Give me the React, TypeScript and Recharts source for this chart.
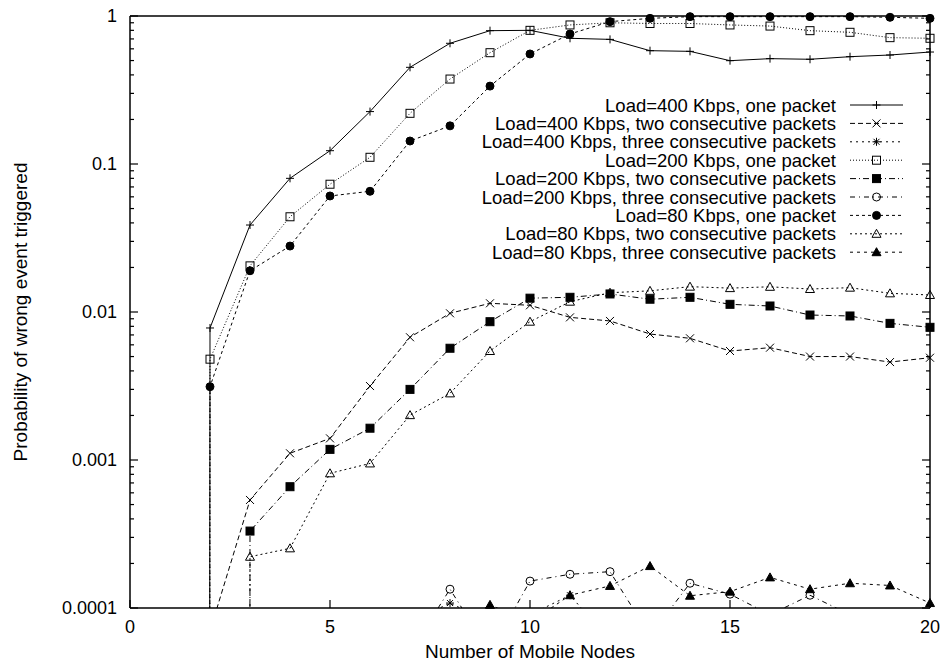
import React from "react";
import { ComposedChart, Line, Scatter, XAxis, YAxis, Legend } from "recharts";

// Number of mobile nodes (x); 0 means "no event seen" and drops off the log scale
const nodes = [1, 2, 3, 4, 5, 6, 7, 8, 9, 10, 11, 12, 13, 14, 15, 16, 17, 18, 19, 20];

const load400One = [0, 0.0078, 0.0387, 0.08, 0.123, 0.226, 0.45, 0.654, 0.796, 0.8, 0.707, 0.695, 0.583, 0.577, 0.499, 0.515, 0.51, 0.531, 0.545, 0.571];
const load400Two = [0, 0.00007, 0.000537, 0.00111, 0.0014, 0.00316, 0.00675, 0.0098, 0.01145, 0.0111, 0.0092, 0.0087, 0.0071, 0.00664, 0.00545, 0.00574, 0.005, 0.005, 0.00459, 0.00491];
const load400Three = [0, 0, 0, 0, 0, 0, 0.00008, 0.000108, 0.00008, 0.00009, 0.000122, 0.00006, 0, 0, 0, 0, 0, 0, 0, 0];
const load200One = [0, 0.0048, 0.0205, 0.044, 0.073, 0.111, 0.22, 0.375, 0.565, 0.8, 0.87, 0.9, 0.89, 0.89, 0.87, 0.855, 0.796, 0.776, 0.714, 0.707];
const load200Two = [0, 0, 0.000331, 0.00066, 0.00118, 0.00164, 0.003, 0.00569, 0.0086, 0.0124, 0.01257, 0.01324, 0.0122, 0.01257, 0.01127, 0.01098, 0.00954, 0.0094, 0.00838, 0.00788];
const load200Three = [0, 0, 0, 0, 0, 0, 0.00005, 0.000134, 0.00005, 0.000152, 0.000169, 0.000176, 0.000065, 0.000147, 0.000124, 0.00009, 0.000122, 0.00009, 0.00005, 0.00005];
const load80One = [0, 0.00313, 0.019, 0.0279, 0.0608, 0.0654, 0.143, 0.181, 0.336, 0.554, 0.756, 0.916, 0.964, 0.99, 0.99, 0.99, 0.99, 0.99, 0.98, 0.964];
const load80Two = [0, 0, 0.000222, 0.000253, 0.000813, 0.000948, 0.00201, 0.00282, 0.00545, 0.0086, 0.01174, 0.0135, 0.0139, 0.01483, 0.0145, 0.0148, 0.0143, 0.0146, 0.01337, 0.01303];
const load80Three = [0, 0, 0, 0, 0, 0, 0, 0.00007, 0.000105, 0.00008, 0.000122, 0.000141, 0.000192, 0.000121, 0.000129, 0.000161, 0.000134, 0.000147, 0.000142, 0.000108];

const xTicks = [0, 5, 10, 15, 20];
const yMajorTicks = [0.0001, 0.001, 0.01, 0.1, 1];
const yTickLabels = ["0.0001", "0.001", "0.01", "0.1", "1"];
const yMinorTicks = [
  0.0002, 0.0003, 0.0004, 0.0005, 0.0006, 0.0007, 0.0008, 0.0009,
  0.002, 0.003, 0.004, 0.005, 0.006, 0.007, 0.008, 0.009,
  0.02, 0.03, 0.04, 0.05, 0.06, 0.07, 0.08, 0.09,
  0.2, 0.3, 0.4, 0.5, 0.6, 0.7, 0.8, 0.9,
];

const FONT = '"Liberation Sans", Arial, Helvetica, sans-serif';
const Y_MIN = 0.0001;
const LOG_ZERO = 1e-300; // gnuplot draws log(0) as a vertical drop

type MarkerKind = "plus" | "cross" | "star" | "box" | "boxF" | "circle" | "circleF" | "tri" | "triF";

const series: { name: string; values: number[]; dash?: string; marker: MarkerKind }[] = [
  { name: "Load=400 Kbps, one packet", values: load400One, marker: "plus" },
  { name: "Load=400 Kbps, two consecutive packets", values: load400Two, dash: "5 3", marker: "cross" },
  { name: "Load=400 Kbps, three consecutive packets", values: load400Three, dash: "2 4", marker: "star" },
  { name: "Load=200 Kbps, one packet", values: load200One, dash: "1 2", marker: "box" },
  { name: "Load=200 Kbps, two consecutive packets", values: load200Two, dash: "6 3 1 3", marker: "boxF" },
  { name: "Load=200 Kbps, three consecutive packets", values: load200Three, dash: "5 4 1 4", marker: "circle" },
  { name: "Load=80 Kbps, one packet", values: load80One, dash: "3 3", marker: "circleF" },
  { name: "Load=80 Kbps, two consecutive packets", values: load80Two, dash: "2 3", marker: "tri" },
  { name: "Load=80 Kbps, three consecutive packets", values: load80Three, dash: "3 4", marker: "triF" },
];

function drawMarker(kind: MarkerKind, cx: number, cy: number) {
  const s = 4;
  const st = { stroke: "#000", strokeWidth: 1 };
  switch (kind) {
    case "plus":
      return <path d={`M${cx - s},${cy}H${cx + s}M${cx},${cy - s}V${cy + s}`} {...st} fill="none" />;
    case "cross":
      return <path d={`M${cx - s},${cy - s}L${cx + s},${cy + s}M${cx - s},${cy + s}L${cx + s},${cy - s}`} {...st} fill="none" />;
    case "star":
      return (
        <path
          d={`M${cx - s},${cy}H${cx + s}M${cx},${cy - s}V${cy + s}M${cx - 3},${cy - 3}L${cx + 3},${cy + 3}M${cx - 3},${cy + 3}L${cx + 3},${cy - 3}`}
          {...st}
          fill="none"
        />
      );
    case "box":
      return <rect x={cx - s} y={cy - s} width={2 * s} height={2 * s} {...st} fill="none" />;
    case "boxF":
      return <rect x={cx - s} y={cy - s} width={2 * s} height={2 * s} {...st} fill="#000" />;
    case "circle":
      return <circle cx={cx} cy={cy} r={s} {...st} fill="none" />;
    case "circleF":
      return <circle cx={cx} cy={cy} r={s} {...st} fill="#000" />;
    case "tri":
      return <path d={`M${cx},${cy - 4.5}L${cx - 4.5},${cy + 3.5}L${cx + 4.5},${cy + 3.5}Z`} {...st} fill="none" />;
    case "triF":
      return <path d={`M${cx},${cy - 4.5}L${cx - 4.5},${cy + 3.5}L${cx + 4.5},${cy + 3.5}Z`} {...st} fill="#000" />;
  }
}

const LeftTick = (props: any) => {
  const { x, y, payload } = props;
  const v = payload.value;
  const idx = yMajorTicks.indexOf(v);
  const ax = x + 13;
  return (
    <g>
      <line x1={ax} x2={ax + (idx >= 0 ? 8 : 4)} y1={y} y2={y} stroke="#000" strokeWidth={1.2} />
      {idx >= 0 && (
        <text x={x} y={y} dy="0.36em" textAnchor="end" fontSize={18} fontFamily={FONT} fill="#000">
          {yTickLabels[idx]}
        </text>
      )}
    </g>
  );
};

const RightTick = (props: any) => {
  const { x, y, payload } = props;
  const major = yMajorTicks.indexOf(payload.value) >= 0;
  return <line x1={x} x2={x - (major ? 8 : 4)} y1={y} y2={y} stroke="#000" strokeWidth={1.2} />;
};

const renderLegend = () => (
  <svg width={943} height={668} style={{ pointerEvents: "none" }}>
    {series.map((s, i) => {
      const y = 105 + i * 18.4;
      return (
        <g key={s.name}>
          <text x={836} y={y} dy="0.36em" textAnchor="end" fontSize={18.5} fontFamily={FONT} fill="#000">
            {s.name}
          </text>
          <line x1={850} x2={903} y1={y} y2={y} stroke="#000" strokeWidth={1} strokeDasharray={s.dash} />
          {drawMarker(s.marker, 876.5, y)}
        </g>
      );
    })}
  </svg>
);

export default function App() {
  const yTicksAll = [...yMajorTicks, ...yMinorTicks].sort((a, b) => a - b);

  return (
    <div style={{ position: "absolute", left: 0, top: 0, width: 943, height: 668, background: "#fff" }}>
      <ComposedChart width={943} height={668} margin={{ top: 15, right: 12, bottom: 0, left: 0 }}>
        <XAxis
          xAxisId="bottom"
          type="number"
          dataKey="x"
          domain={[0, 20]}
          allowDataOverflow
          ticks={xTicks}
          interval={0}
          height={60}
          tickSize={-8}
          tickMargin={20}
          tickLine={{ stroke: "#000", strokeWidth: 1.2 }}
          axisLine={{ stroke: "#000", strokeWidth: 1.5 }}
          tick={{ fill: "#000", fontSize: 18, fontFamily: FONT }}
          label={{ value: "Number of Mobile Nodes", position: "insideBottom", offset: 10, fill: "#000", fontSize: 19, fontFamily: FONT }}
        />
        <XAxis
          xAxisId="top"
          orientation="top"
          type="number"
          domain={[0, 20]}
          allowDataOverflow
          ticks={xTicks}
          interval={0}
          height={1}
          tickSize={-8}
          tickFormatter={() => ""}
          tickLine={{ stroke: "#000", strokeWidth: 1.2 }}
          axisLine={{ stroke: "#000", strokeWidth: 1.5 }}
        />
        <XAxis xAxisId="m" type="number" dataKey="x" domain={[0, 20]} hide />
        <YAxis
          yAxisId="left"
          type="number"
          scale="log"
          domain={[Y_MIN, 1]}
          allowDataOverflow
          ticks={yTicksAll}
          interval={0}
          width={130}
          tickSize={0}
          tickMargin={13}
          tickLine={false}
          tick={<LeftTick />}
          axisLine={{ stroke: "#000", strokeWidth: 1.5 }}
          label={{
            content: (p: any) => {
              const vb = p.viewBox;
              const cx = vb.x + 20;
              const cy = vb.y + vb.height / 2;
              return (
                <text x={cx} y={cy} dy="0.36em" transform={`rotate(-90 ${cx} ${cy})`} textAnchor="middle" fontSize={19} fontFamily={FONT} fill="#000">
                  Probability of wrong event triggered
                </text>
              );
            },
          }}
        />
        <YAxis
          yAxisId="right"
          orientation="right"
          type="number"
          scale="log"
          domain={[Y_MIN, 1]}
          allowDataOverflow
          ticks={yTicksAll}
          interval={0}
          width={1}
          tickSize={0}
          tickMargin={0}
          tickLine={false}
          tick={<RightTick />}
          axisLine={{ stroke: "#000", strokeWidth: 1.5 }}
        />
        <YAxis yAxisId="m" type="number" scale="log" domain={[Y_MIN, 1]} hide />

        {series.map((s) => (
          <Line
            key={`line-${s.name}`}
            xAxisId="bottom"
            yAxisId="left"
            data={nodes.map((x, i) => ({ x, y: s.values[i] > 0 ? s.values[i] : LOG_ZERO }))}
            dataKey="y"
            type="linear"
            stroke="#000"
            strokeWidth={1}
            strokeDasharray={s.dash}
            dot={false}
            activeDot={false}
            legendType="none"
            isAnimationActive={false}
          />
        ))}
        {series.map((s) => (
          <Scatter
            key={`pts-${s.name}`}
            xAxisId="m"
            yAxisId="m"
            data={nodes.map((x, i) => ({ x, y: s.values[i] })).filter((p) => p.y >= Y_MIN)}
            dataKey="y"
            shape={(p: any) => drawMarker(s.marker, p.cx, p.cy)}
            legendType="none"
            isAnimationActive={false}
          />
        ))}
        <Legend
          layout="vertical"
          align="center"
          verticalAlign="middle"
          content={renderLegend}
          wrapperStyle={{ position: "absolute", left: 0, top: 0, width: 943, height: 668, pointerEvents: "none" }}
        />
      </ComposedChart>
    </div>
  );
}
